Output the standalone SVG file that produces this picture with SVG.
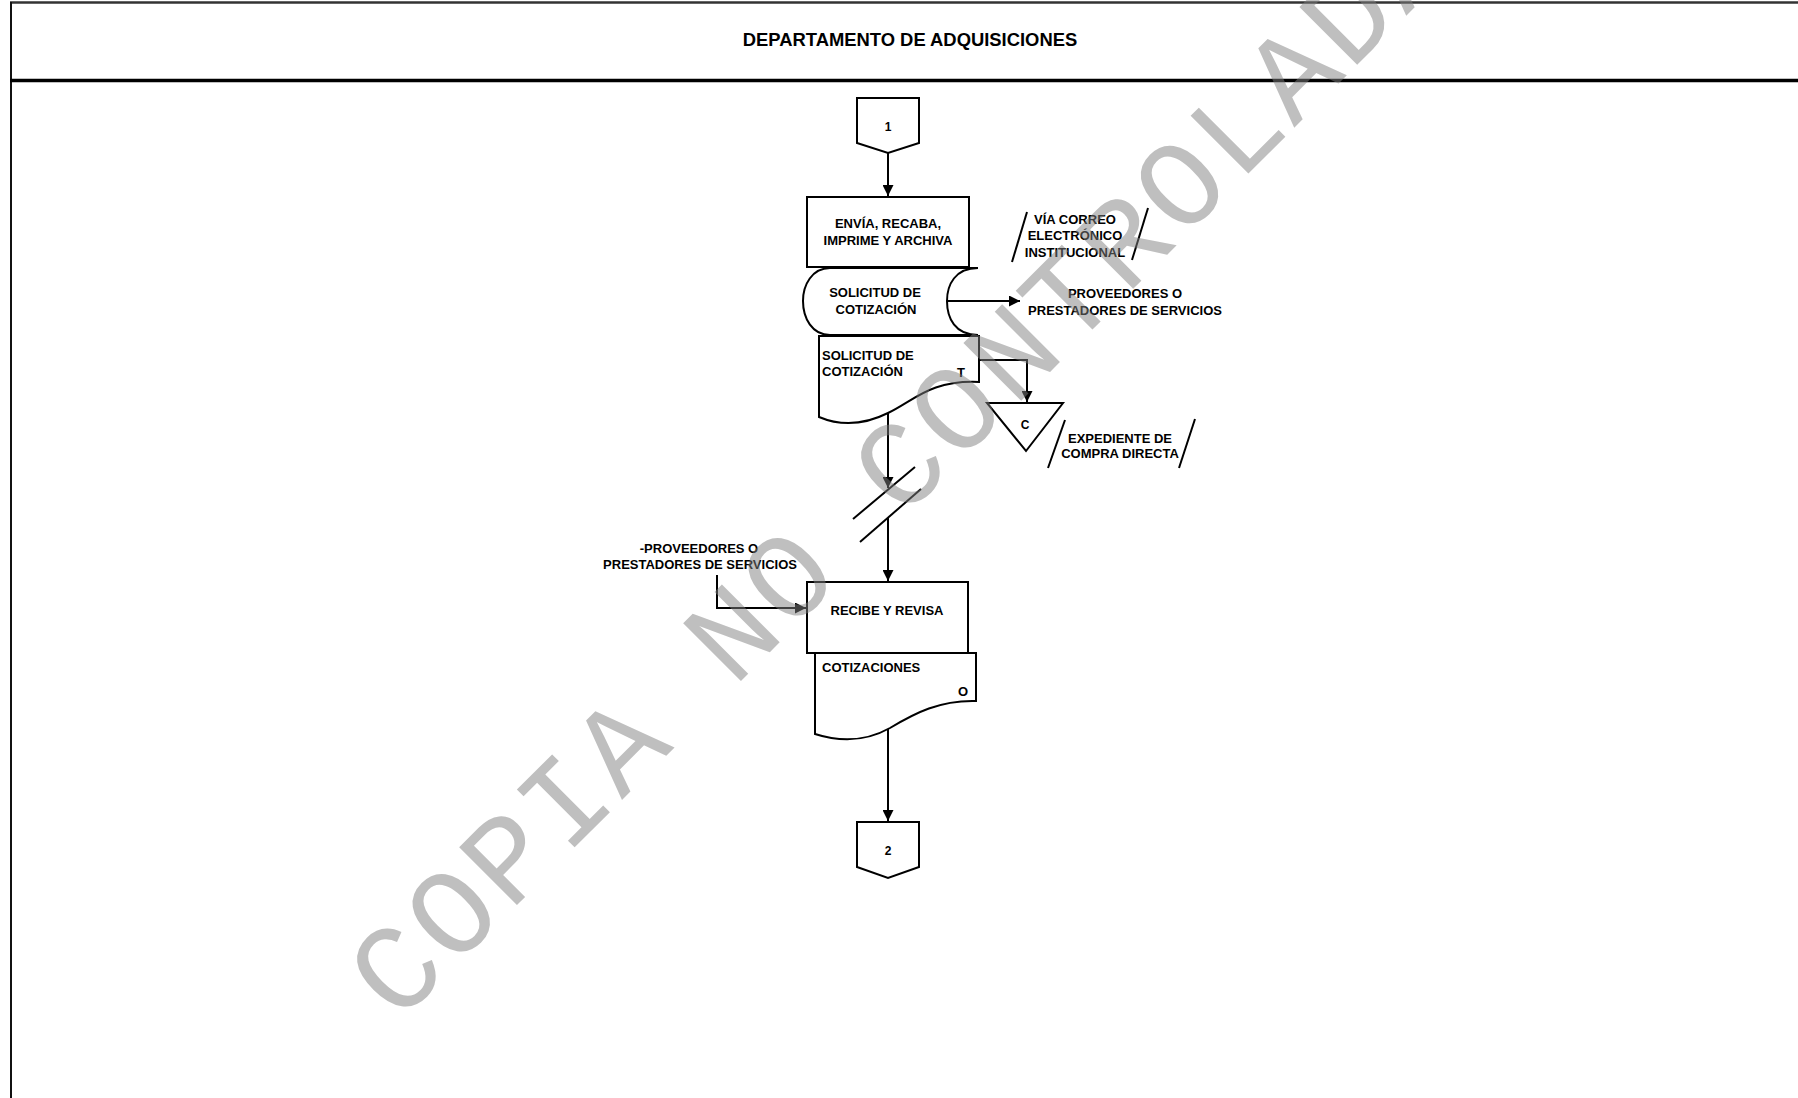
<svg xmlns="http://www.w3.org/2000/svg" width="1798" height="1098" viewBox="0 0 1798 1098">
<defs>
<style>
.t{font-family:"Liberation Sans",Arial,sans-serif;font-weight:bold;font-size:13px;fill:#000}
.c{text-anchor:middle}
.s{fill:#fff;stroke:#000;stroke-width:2}
.ln{fill:none;stroke:#000;stroke-width:2}
.wm{font-family:"Liberation Mono","Courier New",monospace;font-size:124px;letter-spacing:4.8px;fill:#808080;opacity:0.5}
</style>
<marker id="ah" markerUnits="userSpaceOnUse" markerWidth="11" markerHeight="11" refX="11" refY="5.5" orient="auto">
<path d="M0,0 L11,5.5 L0,11 z" fill="#000"/>
</marker>
</defs>
<rect x="0" y="0" width="1798" height="1098" fill="#fff"/>
<g id="frame">
<line x1="10" y1="2.5" x2="1798" y2="2.5" stroke="#333" stroke-width="2.5"/>
<line x1="11" y1="2" x2="11" y2="1098" stroke="#111" stroke-width="2"/>
<line x1="10" y1="80.5" x2="1798" y2="80.5" stroke="#000" stroke-width="3.5"/>
<text class="t c" x="910" y="46" style="font-size:18.4px">DEPARTAMENTO DE ADQUISICIONES</text>
</g>
<g id="connectors">
<line class="ln" x1="888" y1="153" x2="888" y2="196" marker-end="url(#ah)"/>
<line class="ln" x1="948" y1="301" x2="1020" y2="301" marker-end="url(#ah)"/>
<polyline class="ln" points="979,360 1027,360 1027,402" marker-end="url(#ah)"/>
<line class="ln" x1="888" y1="413" x2="888" y2="488" marker-end="url(#ah)"/>
<line class="ln" x1="915" y1="467" x2="853" y2="519"/>
<line class="ln" x1="921" y1="489" x2="860" y2="542"/>
<line class="ln" x1="888" y1="518" x2="888" y2="581" marker-end="url(#ah)"/>
<polyline class="ln" points="717,575 717,608 806,608" marker-end="url(#ah)"/>
<line class="ln" x1="888" y1="728" x2="888" y2="821" marker-end="url(#ah)"/>
</g>
<g id="n-conector1">
<polygon class="s" points="857,98 919,98 919,143 888,153 857,143"/>
<text class="t c" x="888" y="131" style="font-size:12px">1</text>
</g>
<g id="n-envia">
<rect class="s" x="807" y="197" width="162" height="70"/>
<text class="t c" x="888" y="228">ENVÍA, RECABA,</text>
<text class="t c" x="888" y="245">IMPRIME Y ARCHIVA</text>
</g>
<g id="n-via">
<line class="ln" x1="1027" y1="212" x2="1012" y2="262"/>
<line class="ln" x1="1148" y1="208" x2="1132" y2="260"/>
<text class="t c" x="1075" y="224">VÍA CORREO</text>
<text class="t c" x="1075" y="240">ELECTRÓNICO</text>
<text class="t c" x="1075" y="257">INSTITUCIONAL</text>
</g>
<g id="n-solicitud-almacen">
<path class="s" d="M830,268 L978,268 C955,268 947,285 947,301 C947,318 955,335 978,335 L830,335 C812,335 803,318 803,301 C803,285 812,268 830,268 Z"/>
<text class="t c" x="875" y="297">SOLICITUD DE</text>
<text class="t c" x="876" y="314">COTIZACIÓN</text>
</g>
<g id="n-proveedores1">
<text class="t c" x="1125" y="298">PROVEEDORES O</text>
<text class="t c" x="1125" y="315">PRESTADORES DE SERVICIOS</text>
</g>
<g id="n-solicitud-doc">
<path class="s" d="M819,336 L979,336 L979,382 C930,380 915,400 888,413 C860,427 838,425 819,417 Z"/>
<text class="t" x="822" y="360">SOLICITUD DE</text>
<text class="t" x="822" y="376">COTIZACIÓN</text>
<text class="t c" x="961" y="377">T</text>
</g>
<g id="n-archivo">
<polygon class="s" points="987,403 1063,403 1026,451"/>
<text class="t c" x="1025" y="429" style="font-size:12px">C</text>
</g>
<g id="n-expediente">
<line class="ln" x1="1065" y1="420" x2="1048" y2="468"/>
<line class="ln" x1="1195" y1="419" x2="1179" y2="468"/>
<text class="t c" x="1120" y="443">EXPEDIENTE DE</text>
<text class="t c" x="1120" y="458">COMPRA DIRECTA</text>
</g>
<g id="n-proveedores2">
<text class="t c" x="699" y="553">-PROVEEDORES O</text>
<text class="t c" x="700" y="569">PRESTADORES DE SERVICIOS</text>
</g>
<g id="n-recibe">
<rect class="s" x="807" y="582" width="161" height="71"/>
<text class="t c" x="887" y="615">RECIBE Y REVISA</text>
</g>
<g id="n-cotizaciones">
<path class="s" d="M815,653 L976,653 L976,701 C940,700 915,713 890,728 C865,742 840,742 815,734 Z"/>
<text class="t" x="822" y="672">COTIZACIONES</text>
<text class="t c" x="963" y="696">O</text>
</g>
<g id="n-conector2">
<polygon class="s" points="857,822 919,822 919,867 888,878 857,867"/>
<text class="t c" x="888" y="855" style="font-size:12px">2</text>
</g>
<g id="watermark">
<text class="wm" x="398" y="1024" transform="rotate(-45 398 1024)">COPIA NO CONTROLADA</text>
</g>
</svg>
